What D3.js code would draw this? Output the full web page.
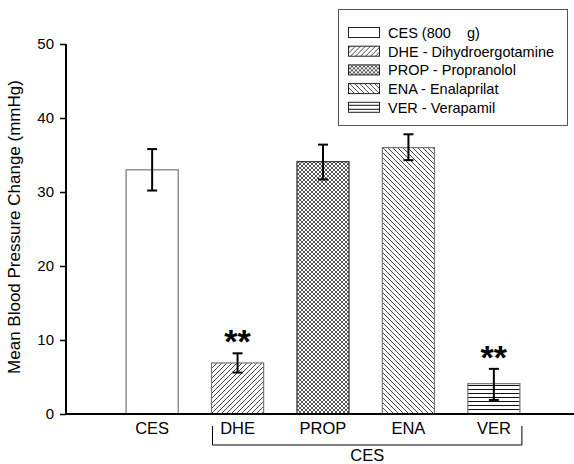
<!DOCTYPE html>
<html>
<head>
<meta charset="utf-8">
<script src="https://cdn.jsdelivr.net/npm/d3@7"></script>
<style>
  body { margin: 0; background: #fff; }
  text { font-family: "Liberation Sans", Arial, sans-serif; fill: #000; }
</style>
</head>
<body>
<div id="chart"></div>
<script>
var groups = ["CES", "DHE", "PROP", "ENA", "VER"];
var means = [33.0, 6.9, 34.1, 36.0, 4.1];
var errLow = [30.2, 5.6, 31.7, 34.3, 1.9];
var errHigh = [35.8, 8.2, 36.4, 37.8, 6.1];
var signif = ["", "**", "", "", "**"];
var legendLabels = ["CES (800\u00a0\u00a0\u00a0\u00a0g)", "DHE - Dihydroergotamine", "PROP - Propranolol", "ENA - Enalaprilat", "VER - Verapamil"];
var yTicks = [0, 10, 20, 30, 40, 50];
var patterns = ["none", "dhe", "prop", "ena", "ver"];

var width = 574, height = 464;
var svg = d3.select("#chart").append("svg")
    .attr("width", width)
    .attr("height", height);

// hatch patterns
var defs = svg.append("defs");
var p1 = defs.append("pattern").attr("id", "dhe").attr("patternUnits", "userSpaceOnUse")
    .attr("width", 5).attr("height", 5);
p1.append("rect").attr("width", 5).attr("height", 5).attr("fill", "#fff");
p1.append("path").attr("d", "M-1,6 L6,-1 M-1,1 L1,-1 M4,6 L6,4").attr("stroke", "#333").attr("stroke-width", 0.9);

var p2 = defs.append("pattern").attr("id", "prop").attr("patternUnits", "userSpaceOnUse")
    .attr("width", 4).attr("height", 4);
p2.append("rect").attr("width", 4).attr("height", 4).attr("fill", "#fff");
p2.append("path").attr("d", "M-1,5 L5,-1 M-1,-1 L5,5 M3,5 L5,3 M-1,1 L1,-1 M-1,3 L1,5 M3,-1 L5,1").attr("stroke", "#222").attr("stroke-width", 0.75);

var p3 = defs.append("pattern").attr("id", "ena").attr("patternUnits", "userSpaceOnUse")
    .attr("width", 5).attr("height", 5);
p3.append("rect").attr("width", 5).attr("height", 5).attr("fill", "#fff");
p3.append("path").attr("d", "M-1,-1 L6,6 M4,-1 L6,1 M-1,4 L1,6").attr("stroke", "#333").attr("stroke-width", 0.9);

var p4 = defs.append("pattern").attr("id", "ver").attr("patternUnits", "userSpaceOnUse")
    .attr("width", 6).attr("height", 4);
p4.append("rect").attr("width", 6).attr("height", 4).attr("fill", "#fff");
p4.append("rect").attr("x", 0).attr("y", 1).attr("width", 6).attr("height", 1).attr("fill", "#111");

var x0 = 66, xEnd = 574;
var y = d3.scaleLinear().domain([0, 50]).range([414, 44]);
var x = d3.scaleBand().domain(groups).range([109, 537]).paddingInner(0.39).paddingOuter(0.2);

// bars
svg.selectAll(".bar").data(groups).enter().append("rect")
    .attr("x", function(d){ return x(d); })
    .attr("y", function(d, i){ return y(means[i]); })
    .attr("width", x.bandwidth())
    .attr("height", function(d, i){ return y(0) - y(means[i]); })
    .attr("fill", function(d, i){ return patterns[i] == "none" ? "#fff" : "url(#" + patterns[i] + ")"; })
    .attr("stroke", function(d, i){ return i == 2 ? "#333" : "#777"; })
    .attr("stroke-width", 1.2);

// error bars
var eb = svg.selectAll(".err").data(groups).enter().append("g");
eb.append("line")
    .attr("x1", function(d){ return x(d) + x.bandwidth() / 2; })
    .attr("x2", function(d){ return x(d) + x.bandwidth() / 2; })
    .attr("y1", function(d, i){ return y(errLow[i]); })
    .attr("y2", function(d, i){ return y(errHigh[i]); })
    .attr("stroke", "#000").attr("stroke-width", 2);
[errLow, errHigh].forEach(function(arr){
    eb.append("line")
        .attr("x1", function(d){ return x(d) + x.bandwidth() / 2 - 5; })
        .attr("x2", function(d){ return x(d) + x.bandwidth() / 2 + 5; })
        .attr("y1", function(d, i){ return y(arr[i]); })
        .attr("y2", function(d, i){ return y(arr[i]); })
        .attr("stroke", "#000").attr("stroke-width", 2);
});

// significance stars
svg.selectAll(".star").data(groups).enter().append("text")
    .attr("x", function(d){ return x(d) + x.bandwidth() / 2; })
    .attr("y", function(d, i){ return y(errHigh[i]) + 0; })
    .attr("text-anchor", "middle")
    .style("font-size", "34px")
    .style("font-weight", "bold")
    .text(function(d, i){ return signif[i]; });

// axes
var yAxis = d3.axisLeft(y).tickValues(yTicks).tickSize(6).tickSizeOuter(0);
var gy = svg.append("g").attr("transform", "translate(" + x0 + ",0)").call(yAxis);
gy.select(".domain").attr("stroke", "#000").attr("stroke-width", 2).attr("d", "M0," + y(0) + "V" + y(50));
gy.selectAll(".tick line").attr("stroke", "#000").attr("stroke-width", 1.5);
gy.selectAll(".tick text").style("font-size", "15px").attr("x", -12);

svg.append("line").attr("x1", x0).attr("x2", xEnd).attr("y1", y(0)).attr("y2", y(0))
    .attr("stroke", "#000").attr("stroke-width", 2);

svg.selectAll(".xlab").data(groups).enter().append("text")
    .attr("x", function(d){ return x(d) + x.bandwidth() / 2; })
    .attr("y", 434)
    .attr("text-anchor", "middle")
    .style("font-size", "16.5px")
    .text(function(d){ return d; });

// bracket under treated groups
var bx1 = x("DHE") + 1, bx2 = x("VER") + x.bandwidth() + 2;
svg.append("path")
    .attr("d", "M" + bx1 + ",426 V445 H" + bx2 + " V426")
    .attr("fill", "none").attr("stroke", "#000").attr("stroke-width", 1);
svg.append("text")
    .attr("x", (bx1 + bx2) / 2)
    .attr("y", 461)
    .attr("text-anchor", "middle")
    .style("font-size", "16.5px")
    .text("CES");

svg.append("text")
    .attr("transform", "translate(20," + ((y(0) + y(50)) / 2 - 2) + ") rotate(-90)")
    .attr("text-anchor", "middle")
    .style("font-size", "17px")
    .text("Mean Blood Pressure Change (mmHg)");

// legend
var legend = svg.append("g");
legend.append("rect").attr("x", 338.5).attr("y", 9.5).attr("width", 229).attr("height", 116)
    .attr("fill", "#fff").attr("stroke", "#555").attr("stroke-width", 1);
var items = legend.selectAll(".item").data(legendLabels).enter().append("g")
    .attr("transform", function(d, i){ return "translate(0," + (33 + i * 18.7) + ")"; });
items.append("rect").attr("x", 348.5).attr("y", -5.5).attr("width", 31).attr("height", 10)
    .attr("fill", function(d, i){ return patterns[i] == "none" ? "#fff" : "url(#" + patterns[i] + ")"; })
    .attr("stroke", "#222").attr("stroke-width", 1);
items.append("text").attr("x", 388).attr("y", 0).attr("dy", "0.35em")
    .style("font-size", "14.5px")
    .text(function(d){ return d; });
</script>
</body>
</html>
